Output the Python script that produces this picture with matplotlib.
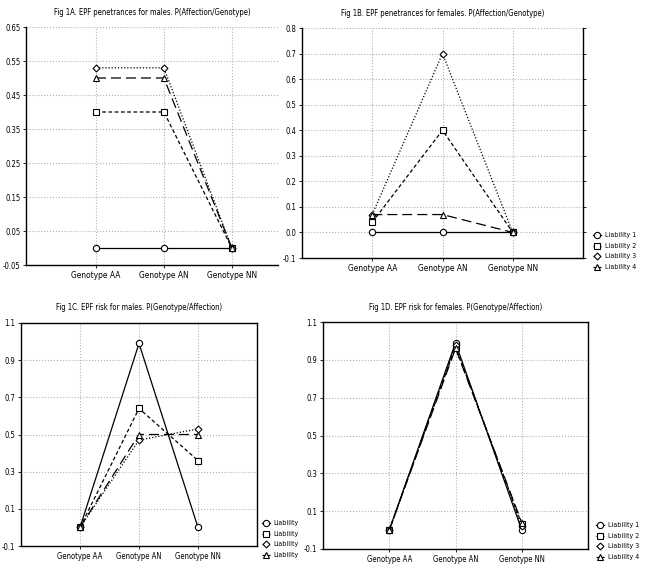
import matplotlib.pyplot as plt

plt.rcParams['font.family'] = ['DejaVu Sans']
plt.rcParams['font.stretch'] = 'condensed'

# categorias y series
genotypes = ['Genotype AA', 'Genotype AN', 'Genotype NN']
labels = ['Liability 1', 'Liability 2', 'Liability 3', 'Liability 4']

males_pen = [[0.0, 0.0, 0.0],
             [0.40, 0.40, 0.0],
             [0.53, 0.53, 0.0],
             [0.50, 0.50, 0.0]]
females_pen = [[0.0, 0.0, 0.0],
               [0.04, 0.40, 0.0],
               [0.07, 0.70, 0.0],
               [0.07, 0.07, 0.0]]
males_risk = [[0.0, 0.99, 0.0],
              [0.0, 0.64, 0.36],
              [0.0, 0.47, 0.53],
              [0.0, 0.50, 0.50]]
females_risk = [[0.0, 0.99, 0.0],
                [0.0, 0.97, 0.03],
                [0.0, 0.98, 0.02],
                [0.0, 0.96, 0.04]]

markers = ['o', 's', 'D', '^']
styles = ['-', (0, (3, 2)), (0, (1, 1.5)), (0, (8, 4))]
msizes = [4.5, 4.5, 3.5, 4.5]

W, H = 646, 569
fig = plt.figure(figsize=(W / 100, H / 100), dpi=100)


def fmt(t):
    s = '%.2f' % t
    if s.endswith('0'):
        s = s[:-1]
    return s


def panel(rect, data, title, yticks, ylim, legend_px=None, leg_labels=None,
          spines=('left', 'bottom', 'right', 'top'), xfs=5.5):
    ax = fig.add_axes(rect)
    x = range(len(genotypes))
    for i, serie in enumerate(data):
        ax.plot(x, serie, linestyle=styles[i], color='black', lw=0.9,
                marker=markers[i], ms=msizes[i], mfc='white', mec='black',
                mew=0.8, label=leg_labels[i] if leg_labels else labels[i])
    ax.set_xlim(-1, 3)
    ax.set_ylim(*ylim)
    ax.set_xticks(list(x))
    ax.set_xticklabels(genotypes, fontsize=xfs)
    ax.set_yticks(yticks)
    ax.set_yticklabels([fmt(t) for t in yticks], fontsize=5.5)
    ax.grid(True, linestyle=':', color='#b0b0b0', lw=0.8)
    ax.tick_params(length=2, width=0.6, pad=2)
    for s in ['left', 'bottom', 'right', 'top']:
        ax.spines[s].set_visible(s in spines)
        ax.spines[s].set_linewidth(1.0)
    ax.set_title(title, fontsize=5.5, pad=9)
    if legend_px:
        ax.legend(loc='lower left',
                  bbox_to_anchor=(legend_px[0] / W, 1 - legend_px[1] / H),
                  bbox_transform=fig.transFigure, frameon=False,
                  fontsize=5, handlelength=1.1, handletextpad=0.6,
                  labelspacing=0.65, borderaxespad=0, borderpad=0)
    return ax


axA = panel([26 / W, 1 - 265 / H, 252 / W, 238 / H], males_pen,
            'Fig 1A. EPF penetrances for males. P(Affection/Genotype)',
            [-0.05, 0.05, 0.15, 0.25, 0.35, 0.45, 0.55, 0.65], (-0.05, 0.65),
            spines=('left', 'bottom'), xfs=6)
axA.set_xlim(-1.03, 2.68)

axB = panel([302 / W, 1 - 258 / H, 281 / W, 230 / H], females_pen,
            'Fig 1B. EPF penetrances for females. P(Affection/Genotype)',
            [-0.1, 0.0, 0.1, 0.2, 0.3, 0.4, 0.5, 0.6, 0.7, 0.8], (-0.1, 0.8),
            legend_px=(593, 270), spines=('left', 'bottom', 'right'), xfs=6)
axB.tick_params(axis='y', right=True, direction='out')

panel([21 / W, 1 - 546 / H, 236 / W, 223 / H], males_risk,
      'Fig 1C. EPF risk for males. P(Genotype/Affection)',
      [-0.1, 0.1, 0.3, 0.5, 0.7, 0.9, 1.1], (-0.1, 1.1),
      legend_px=(262, 558), leg_labels=['Liability'] * 4)

panel([323 / W, 1 - 549 / H, 265 / W, 227 / H], females_risk,
      'Fig 1D. EPF risk for females. P(Genotype/Affection)',
      [-0.1, 0.1, 0.3, 0.5, 0.7, 0.9, 1.1], (-0.1, 1.1),
      legend_px=(596, 560))

fig.savefig('out.png', dpi=100)
